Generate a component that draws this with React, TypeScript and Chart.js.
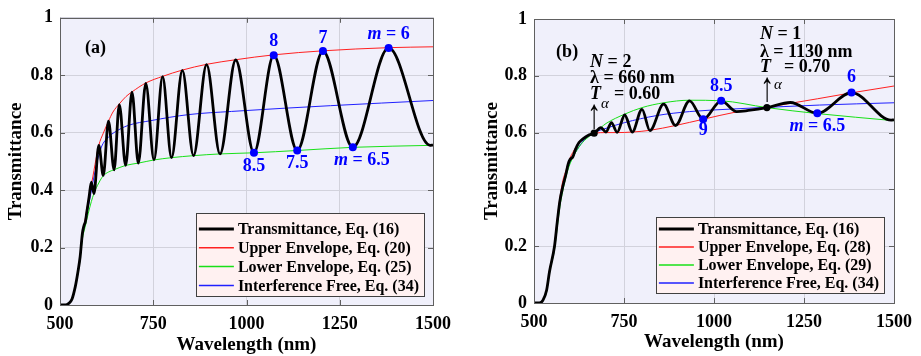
import React, { useEffect, useRef } from "react";
import { Chart, registerables } from "chart.js";

Chart.register(...registerables);

// ---------- shared ticks ----------
const xTicks = [500, 750, 1000, 1250, 1500];
const yTicks = [0, 0.2, 0.4, 0.6, 0.8, 1];

// ---------- panel (a) ----------
const aTransLam = [500, 515, 523, 532, 541, 548, 554, 560, 564, 568, 572, 578, 584, 591, 604, 616, 630, 645, 659, 676, 693, 710, 730, 752, 775, 799, 828, 858, 893, 929, 971, 1020, 1073, 1136, 1205, 1285, 1381, 1492, 1500];
const aTransT = [0, 0, 0.005, 0.02, 0.064, 0.115, 0.168, 0.249, 0.275, 0.29, 0.325, 0.376, 0.428, 0.388, 0.556, 0.451, 0.64, 0.471, 0.698, 0.486, 0.741, 0.494, 0.772, 0.505, 0.795, 0.513, 0.817, 0.52, 0.837, 0.526, 0.853, 0.53, 0.87, 0.538, 0.884, 0.549, 0.895, 0.556, 0.557];

const aUpperLam = [500, 515, 523, 532, 541, 554, 560, 567, 578, 588, 594, 604, 616, 630, 642, 659, 677, 693, 730, 775, 828, 893, 971, 1073, 1205, 1381, 1500];
const aUpperT = [0, 0, 0.005, 0.02, 0.064, 0.17, 0.25, 0.295, 0.38, 0.446, 0.49, 0.556, 0.598, 0.64, 0.672, 0.7, 0.726, 0.742, 0.773, 0.796, 0.818, 0.838, 0.854, 0.871, 0.885, 0.896, 0.899];

const aLowerLam = [500, 515, 523, 532, 541, 554, 560, 567, 576, 584, 591, 604, 616, 630, 645, 676, 710, 752, 799, 858, 929, 1020, 1136, 1285, 1500];
const aLowerT = [0, 0, 0.005, 0.02, 0.062, 0.16, 0.23, 0.27, 0.32, 0.36, 0.388, 0.425, 0.45, 0.463, 0.471, 0.486, 0.494, 0.505, 0.513, 0.52, 0.526, 0.53, 0.538, 0.549, 0.556];

const aFreeLam = [500, 515, 523, 532, 541, 554, 560, 567, 580, 585, 598, 611, 630, 647, 682, 744, 845, 960, 1225, 1500];
const aFreeT = [0, 0, 0.005, 0.02, 0.063, 0.165, 0.24, 0.285, 0.37, 0.405, 0.49, 0.55, 0.585, 0.602, 0.625, 0.642, 0.663, 0.674, 0.694, 0.712];

const aMarkLam = [1073, 1205, 1381, 1020, 1136, 1285];
const aMarkT = [0.87, 0.884, 0.895, 0.53, 0.538, 0.549];
const aMarkLabels = ["8", "7", "m = 6", "8.5", "7.5", "m = 6.5"];

const aLegend = ["Transmittance, Eq. (16)", "Upper Envelope, Eq. (20)", "Lower Envelope, Eq. (25)", "Interference Free, Eq. (34)"];

// ---------- panel (b) ----------
const bTransLam = [500, 515, 525, 535, 543, 557, 565, 572, 580, 588, 595, 600, 608, 615, 625, 636, 650, 667, 686, 700, 715, 731, 752, 773, 800, 822, 860, 893, 932, 970, 1020, 1063, 1095, 1147, 1212, 1287, 1382, 1492, 1500];
const bTransT = [0, 0, 0.01, 0.045, 0.11, 0.2, 0.29, 0.36, 0.41, 0.45, 0.49, 0.505, 0.515, 0.54, 0.565, 0.578, 0.59, 0.598, 0.617, 0.602, 0.635, 0.601, 0.662, 0.602, 0.682, 0.607, 0.7, 0.625, 0.712, 0.647, 0.712, 0.674, 0.678, 0.688, 0.706, 0.668, 0.741, 0.644, 0.645];

const bUpperLam = [500, 515, 525, 535, 543, 557, 565, 572, 580, 590, 600, 610, 626, 644, 668, 700, 731, 773, 822, 893, 970, 1063, 1147, 1212, 1287, 1382, 1500];
const bUpperT = [0, 0, 0.01, 0.045, 0.115, 0.205, 0.3, 0.37, 0.43, 0.47, 0.51, 0.535, 0.565, 0.586, 0.598, 0.6, 0.6, 0.602, 0.608, 0.625, 0.647, 0.673, 0.689, 0.703, 0.719, 0.74, 0.764];

const bLowerLam = [500, 515, 525, 535, 543, 557, 565, 572, 580, 590, 600, 620, 640, 668, 686, 700, 752, 800, 860, 932, 1020, 1147, 1287, 1500];
const bLowerT = [0, 0, 0.01, 0.04, 0.105, 0.19, 0.27, 0.34, 0.395, 0.45, 0.49, 0.54, 0.572, 0.6, 0.618, 0.632, 0.665, 0.688, 0.705, 0.714, 0.712, 0.688, 0.667, 0.642];

const bFreeLam = [500, 515, 525, 535, 543, 557, 565, 572, 580, 590, 600, 620, 640, 668, 700, 751, 841, 932, 1050, 1147, 1293, 1500];
const bFreeT = [0, 0, 0.01, 0.043, 0.11, 0.198, 0.285, 0.355, 0.41, 0.455, 0.495, 0.54, 0.575, 0.6, 0.615, 0.635, 0.66, 0.674, 0.683, 0.689, 0.697, 0.705];

const bMarkLam = [1020, 970, 1382, 1287];
const bMarkT = [0.712, 0.647, 0.741, 0.668];
const bMarkLabels = ["8.5", "9", "6", "m = 6.5"];

const bRefLam = [667, 1147];
const bRefT = [0.598, 0.688];
const bRefN = ["2", "1"];
const bRefLambdaText = ["660", "1130"];
const bRefTText = ["0.60", "0.70"];

const bLegend = ["Transmittance, Eq. (16)", "Upper Envelope, Eq. (28)", "Lower Envelope, Eq. (29)", "Interference Free, Eq. (34)"];

// ---------- styling ----------
const SERIF = '"Liberation Serif", "Times New Roman", "DejaVu Serif", serif';
const fnt = (size: number, italic = false, bold = true) =>
  `${italic ? "italic " : ""}${bold ? "bold " : ""}${size}px ${SERIF}`;

const C_TRANS = "#000000";
const C_UP = "#ff2020";
const C_LOW = "#18e018";
const C_FREE = "#2020ff";
const C_MARK = "#0000ff";
const PLOT_BG = "#f0f0fb";
const GRID = "#d2d2dc";
const FRAME = "#606060";

const pts = (xs: number[], ys: number[]) => xs.map((x, i) => ({ x, y: ys[i] }));

interface Run { t: string; it?: boolean; size?: number; bold?: boolean; pre?: number; sy?: number }
interface Note { x: number; y: number; dx: number; dy: number; runs: Run[]; color: string; align: "left" | "center" }

function italicM(label: string): Run[] {
  if (label.startsWith("m")) return [{ t: "m", it: true }, { t: label.slice(1) }];
  return [{ t: label }];
}

interface Panel {
  trans: { x: number; y: number }[];
  upper: { x: number; y: number }[];
  lower: { x: number; y: number }[];
  free: { x: number; y: number }[];
  marks: { x: number; y: number }[];
  refs: { x: number; y: number }[];
  legend: string[];
  notes: Note[];
  yWidth: number;
  xHeight: number;
  padTop: number;
  padRight: number;
  yTitlePad: number;
  xTitlePad: number;
  leg: { inset: number; h: number; row0: number; gap: number };
}

function drawRuns(ctx: CanvasRenderingContext2D, runs: Run[], x: number, y: number, align: "left" | "center") {
  const ws = runs.map((r) => {
    ctx.font = fnt(r.size ?? 18, !!r.it, r.bold ?? true);
    return ctx.measureText(r.t).width;
  });
  const total = ws.reduce((s, w, i) => s + w + (runs[i].pre ?? 0), 0);
  let cx = align === "center" ? x - total / 2 : x;
  runs.forEach((r, i) => {
    cx += r.pre ?? 0;
    ctx.font = fnt(r.size ?? 18, !!r.it, r.bold ?? true);
    if (r.sy && r.sy !== 1) {
      ctx.save();
      ctx.translate(cx, y);
      ctx.scale(1, r.sy);
      ctx.fillText(r.t, 0, 0);
      ctx.restore();
    } else {
      ctx.fillText(r.t, cx, y);
    }
    cx += ws[i];
  });
}

const LEG_FONT = 16;

const decorPlugin = {
  id: "panelDecor",
  beforeDraw(chart: any) {
    const { ctx, chartArea: a } = chart;
    ctx.save();
    ctx.fillStyle = PLOT_BG;
    ctx.fillRect(a.left, a.top, a.right - a.left, a.bottom - a.top);
    ctx.restore();
  },
  afterDraw(chart: any) {
    const panel: Panel = chart.options.plugins.panelDecor.panel;
    const { ctx, chartArea: a, scales } = chart;
    ctx.save();
    // frame
    ctx.strokeStyle = FRAME;
    ctx.lineWidth = 1;
    ctx.strokeRect(Math.round(a.left) + 0.5, Math.round(a.top) + 0.5, Math.round(a.right - a.left), Math.round(a.bottom - a.top));
    // inward ticks
    const tl = 5;
    ctx.beginPath();
    xTicks.forEach((v) => {
      const px = Math.round(scales.x.getPixelForValue(v)) + 0.5;
      ctx.moveTo(px, a.bottom); ctx.lineTo(px, a.bottom - tl);
      ctx.moveTo(px, a.top); ctx.lineTo(px, a.top + tl);
    });
    yTicks.forEach((v) => {
      const py = Math.round(scales.y.getPixelForValue(v)) + 0.5;
      ctx.moveTo(a.left, py); ctx.lineTo(a.left + tl, py);
      ctx.moveTo(a.right, py); ctx.lineTo(a.right - tl, py);
    });
    ctx.stroke();

    // legend
    const L = panel.leg;
    ctx.font = fnt(LEG_FONT);
    const maxW = Math.max(...panel.legend.map((s) => ctx.measureText(s).width));
    const w = 42 + maxW + 5;
    const right = a.right - L.inset;
    const bottom = a.bottom - L.inset;
    const left = right - w;
    const top = bottom - L.h;
    ctx.fillStyle = "#fff1f1";
    ctx.fillRect(left, top, w, L.h);
    ctx.strokeStyle = "#404040";
    ctx.lineWidth = 1;
    ctx.strokeRect(Math.round(left) + 0.5, Math.round(top) + 0.5, Math.round(w), Math.round(L.h));
    const ds = chart.data.datasets;
    panel.legend.forEach((label, i) => {
      const y = top + L.row0 + i * L.gap;
      ctx.strokeStyle = ds[i].borderColor;
      ctx.lineWidth = i === 0 ? 3 : 1.5;
      ctx.beginPath();
      ctx.moveTo(left + 3, y);
      ctx.lineTo(left + 38, y);
      ctx.stroke();
      ctx.fillStyle = "#000";
      ctx.font = fnt(LEG_FONT);
      ctx.textBaseline = "middle";
      ctx.textAlign = "left";
      ctx.fillText(label, left + 42, y + 1);
    });

    // notes
    ctx.textBaseline = "middle";
    ctx.textAlign = "left";
    panel.notes.forEach((n) => {
      const px = scales.x.getPixelForValue(n.x) + n.dx;
      const py = scales.y.getPixelForValue(n.y) + n.dy;
      ctx.fillStyle = n.color;
      drawRuns(ctx, n.runs, px, py, n.align);
    });
    ctx.restore();
  },
};

function buildConfig(p: Panel): any {
  const line = (data: any, color: string, width: number, order: number) => ({
    data,
    borderColor: color,
    backgroundColor: color,
    borderWidth: width,
    pointRadius: 0,
    fill: false,
    cubicInterpolationMode: "monotone",
    order,
  });
  const datasets: any[] = [
    line(p.trans, C_TRANS, 2.8, 2),
    line(p.upper, C_UP, 1, 3),
    line(p.lower, C_LOW, 1, 4),
    line(p.free, C_FREE, 1, 5),
    {
      data: p.marks,
      showLine: false,
      pointRadius: 4,
      pointBorderWidth: 0,
      pointBackgroundColor: C_MARK,
      borderColor: C_MARK,
      order: 0,
    },
  ];
  if (p.refs.length) {
    datasets.push({
      data: p.refs,
      showLine: false,
      pointRadius: 3.6,
      pointBorderWidth: 0,
      pointBackgroundColor: "#000",
      borderColor: "#000",
      order: 1,
    });
  }
  return {
    type: "line",
    data: { datasets },
    plugins: [decorPlugin],
    options: {
      animation: false,
      responsive: false,
      maintainAspectRatio: false,
      devicePixelRatio: 1,
      events: [],
      layout: { padding: { top: p.padTop, right: p.padRight, left: 0, bottom: 0 } },
      plugins: {
        legend: { display: false },
        tooltip: { enabled: false },
        panelDecor: { panel: p },
      },
      scales: {
        x: {
          type: "linear",
          min: 500,
          max: 1500,
          afterFit: (s: any) => { s.height = p.xHeight; },
          afterBuildTicks: (s: any) => { s.ticks = xTicks.map((v) => ({ value: v })); },
          ticks: {
            color: "#000",
            font: { family: SERIF, size: 18, weight: "bold" },
            padding: 9,
            maxRotation: 0,
            callback: (v: any) => String(v),
          },
          grid: { color: GRID, drawTicks: false },
          border: { display: false },
          title: { display: true, text: "Wavelength (nm)", color: "#000", font: { family: SERIF, size: 19, weight: "bold" }, padding: { top: 0, bottom: p.xTitlePad } },
        },
        y: {
          type: "linear",
          min: 0,
          max: 1,
          afterFit: (s: any) => { s.width = p.yWidth; },
          afterBuildTicks: (s: any) => { s.ticks = yTicks.map((v) => ({ value: v })); },
          ticks: {
            color: "#000",
            font: { family: SERIF, size: 18, weight: "bold" },
            padding: 7,
            callback: (v: any) => (v === 0 ? "0" : v === 1 ? "1" : Number(v).toFixed(1)),
          },
          grid: { color: GRID, drawTicks: false },
          border: { display: false },
          title: { display: true, text: "Transmittance", color: "#000", font: { family: SERIF, size: 19, weight: "bold" }, padding: { top: p.yTitlePad, bottom: 0 } },
        },
      },
    },
  };
}

// ---------- panel specs ----------
const aMarkDx = [0, 0, 0, 0, 0, 9];
const aMarkDy = [-14, -13, -14, 14, 13, 13];
const bMarkDx = [0, 0, 0, 0];
const bMarkDy = [-14, 11, -15, 13];

const panelA: Panel = {
  trans: pts(aTransLam, aTransT),
  upper: pts(aUpperLam, aUpperT),
  lower: pts(aLowerLam, aLowerT),
  free: pts(aFreeLam, aFreeT),
  marks: pts(aMarkLam, aMarkT),
  refs: [],
  legend: aLegend,
  notes: [
    { x: 595, y: 0.892, dx: 0, dy: 0, runs: [{ t: "(a)" }], color: "#000", align: "center" },
    ...aMarkLam.map((x, i) => ({ x, y: aMarkT[i], dx: aMarkDx[i], dy: aMarkDy[i], runs: italicM(aMarkLabels[i]), color: C_MARK, align: "center" as const })),
  ],
  yWidth: 60,
  xHeight: 51,
  padTop: 17,
  padRight: 23,
  yTitlePad: 5,
  xTitlePad: 0,
  leg: { inset: 9, h: 83, row0: 16, gap: 18.8 },
};

const refDx = [-4, -7];
const refLineDy = [[-71, -55, -39], [-73, -55, -40]];
const refArrowDy = [-16, -17];
const refAlphaDy = [-29, -23];

const bRefNotes: Note[] = [];
bRefLam.forEach((x, i) => {
  const y = bRefT[i];
  const d = refLineDy[i];
  bRefNotes.push({ x, y, dx: refDx[i], dy: d[0], runs: [{ t: "N", it: true }, { t: " = " + bRefN[i] }], color: "#000", align: "left" });
  bRefNotes.push({ x, y, dx: refDx[i], dy: d[1], runs: [{ t: "λ = " + bRefLambdaText[i] + " nm" }], color: "#000", align: "left" });
  bRefNotes.push({ x, y, dx: refDx[i], dy: d[2], runs: [{ t: "T", it: true }, { t: "= " + bRefTText[i], pre: 13 }], color: "#000", align: "left" });
  bRefNotes.push({ x, y, dx: 0, dy: refArrowDy[i], runs: [{ t: "↑", bold: true, size: 28, sy: 1.5 }], color: "#000", align: "center" });
  bRefNotes.push({ x, y, dx: 7, dy: refAlphaDy[i], runs: [{ t: "α", it: true, bold: false, size: 15 }], color: "#000", align: "left" });
});

const panelB: Panel = {
  trans: pts(bTransLam, bTransT),
  upper: pts(bUpperLam, bUpperT),
  lower: pts(bLowerLam, bLowerT),
  free: pts(bFreeLam, bFreeT),
  marks: pts(bMarkLam, bMarkT),
  refs: pts(bRefLam, bRefT),
  legend: bLegend,
  notes: [
    { x: 592, y: 0.884, dx: 0, dy: 0, runs: [{ t: "(b)" }], color: "#000", align: "center" },
    ...bRefNotes,
    ...bMarkLam.map((x, i) => ({ x, y: bMarkT[i], dx: bMarkDx[i], dy: bMarkDy[i], runs: italicM(bMarkLabels[i]), color: C_MARK, align: "center" as const })),
  ],
  yWidth: 74,
  xHeight: 53,
  padTop: 19,
  padRight: 18,
  yTitlePad: 21,
  xTitlePad: 3,
  leg: { inset: 10, h: 76, row0: 12, gap: 18 },
};

function PanelChart({ panel, left, width }: { panel: Panel; left: number; width: number }) {
  const ref = useRef<HTMLCanvasElement>(null);
  useEffect(() => {
    const chart = new Chart(ref.current as HTMLCanvasElement, buildConfig(panel));
    return () => chart.destroy();
  }, [panel]);
  return (
    <canvas
      ref={ref}
      width={width}
      height={356}
      style={{ position: "absolute", left, top: 0, width, height: 356, display: "block" }}
    />
  );
}

export default function App() {
  return (
    <div style={{ position: "absolute", left: 0, top: 0, width: 921, height: 356, background: "#fff", overflow: "hidden" }}>
      <PanelChart panel={panelA} left={0} width={460} />
      <PanelChart panel={panelB} left={460} width={461} />
    </div>
  );
}
